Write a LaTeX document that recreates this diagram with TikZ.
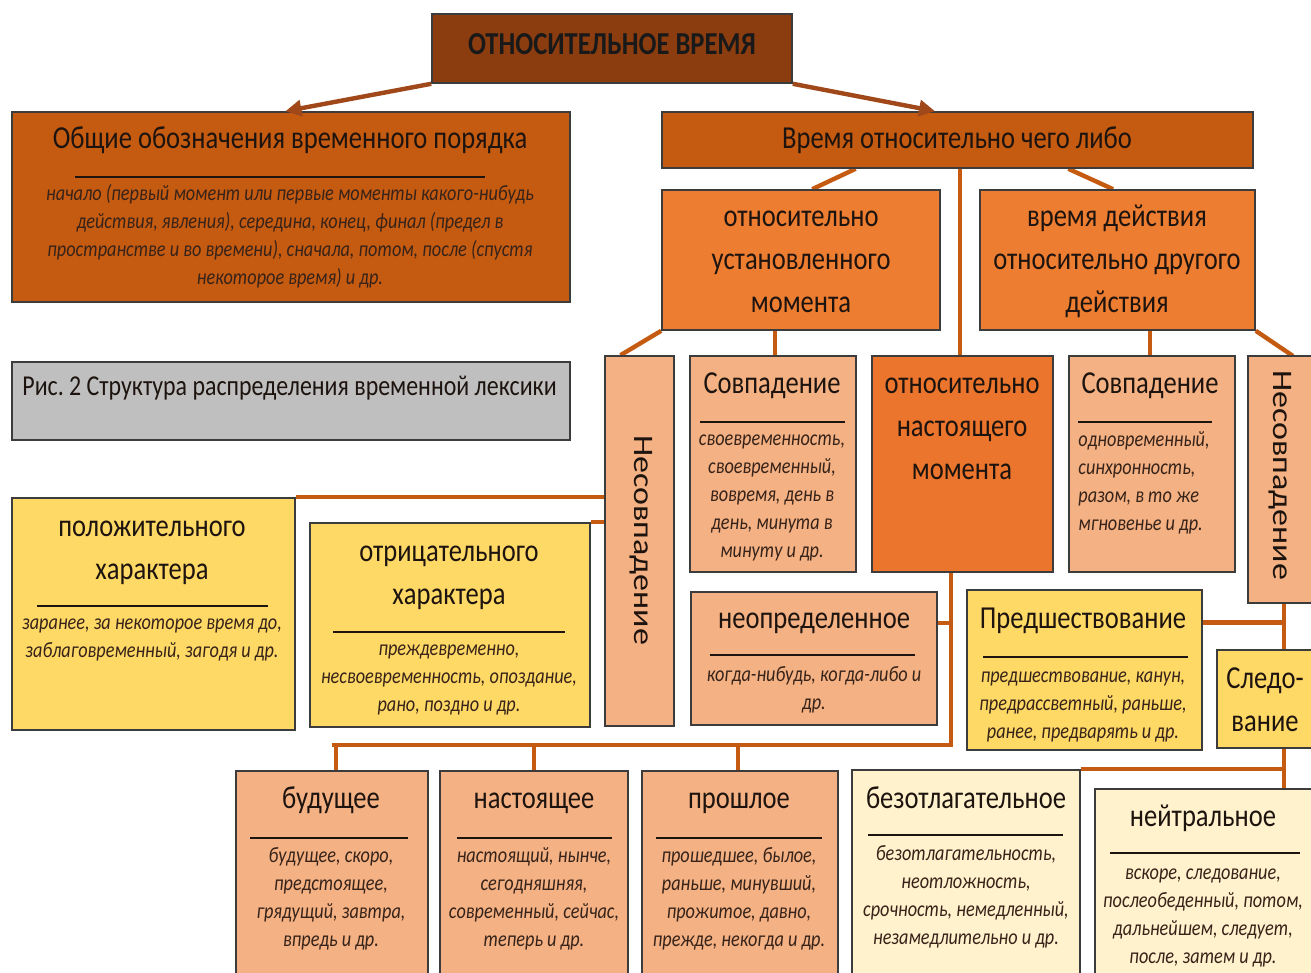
\documentclass[tikz,border=0pt]{standalone}
\usepackage{fontspec}
\setmainfont{Carlito}[FakeStretch=0.83]
\newfontfamily\vertfont{Carlito}
\usetikzlibrary{arrows.meta,calc,fit,backgrounds}
\frenchspacing

\definecolor{cTop}{RGB}{139,61,16}
\definecolor{cDark}{RGB}{197,90,17}
\definecolor{cMid}{RGB}{237,125,49}
\definecolor{cMidB}{RGB}{235,117,44}
\definecolor{cPeach}{RGB}{244,177,131}
\definecolor{cYel}{RGB}{255,217,102}
\definecolor{cCream}{RGB}{255,242,204}
\definecolor{cGrey}{RGB}{191,191,191}
\definecolor{cConn}{RGB}{197,90,17}
\definecolor{cArr}{RGB}{160,72,25}
\definecolor{cBorder}{RGB}{60,60,60}
\definecolor{cTxt}{RGB}{30,20,15}
\definecolor{cTxtI}{RGB}{55,35,25}

\begin{document}
\begin{tikzpicture}[x=0.5pt,y=-0.5pt,
  box/.style={draw=cBorder, line width=0.8pt, inner sep=0pt},
  conn/.style={draw=cConn, line width=2.2pt},
  arr/.style={draw=cArr, line width=2.2pt, -{Triangle[length=8pt,width=8pt]}},
  ttl/.style={font=\fontsize{16}{21.5}\selectfont, align=center, inner sep=0pt, anchor=north, text=cTxt},
  itl/.style={font=\fontsize{11}{14}\selectfont\itshape, align=center, inner sep=0pt, anchor=north, text=cTxtI},
  rl/.style={draw=cTxt, line width=0.8pt},
  vert/.style={font=\vertfont\fontsize{17}{20}\selectfont, rotate=-90, inner sep=0pt, text=cTxt},
]
\useasboundingbox (0,0) rectangle (1311,973);

% ---------- boxes ----------
\node[box, fill=cTop,   fit={(432,14) (792,83)}] (top) {};
\node[box, fill=cDark,  fit={(12,112) (570,302)}] (obsh) {};
\node[box, fill=cDark,  fit={(662,112) (1253,168)}] (vrem) {};
\node[box, fill=cGrey,  fit={(12,362) (570,440)}] (ris) {};
\node[box, fill=cMid,   fit={(662,190) (940,330)}] (ust) {};
\node[box, fill=cMid,   fit={(980,190) (1255,330)}] (dei) {};
\node[box, fill=cPeach, fit={(605,356) (674,726)}] (nesA) {};
\node[box, fill=cPeach, fit={(690,356) (856,572)}] (sovA) {};
\node[box, fill=cMidB,  fit={(872,356) (1053,572)}] (nast) {};
\node[box, fill=cPeach, fit={(1069,356) (1235,572)}] (sovB) {};
\node[box, fill=cPeach, fit={(1248,356) (1322,603)}] (nesB) {};
\node[box, fill=cYel,   fit={(12,498) (295,730)}] (pol) {};
\node[box, fill=cYel,   fit={(310,523) (590,727)}] (otr) {};
\node[box, fill=cPeach, fit={(691,592) (937,725)}] (neop) {};
\node[box, fill=cYel,   fit={(967,590) (1202,750)}] (pred) {};
\node[box, fill=cYel,   fit={(1217,650) (1322,748)}] (sled) {};
\node[box, fill=cPeach, fit={(236,771) (428,990)}] (bud) {};
\node[box, fill=cPeach, fit={(440,771) (628,990)}] (nasto) {};
\node[box, fill=cPeach, fit={(642,771) (838,990)}] (prosh) {};
\node[box, fill=cCream, fit={(852,770) (1080,990)}] (bezo) {};
\node[box, fill=cCream, fit={(1095,789) (1322,990)}] (neit) {};

% ---------- junction coordinates ----------
\coordinate (jN) at (951,745);
\coordinate (jR) at (1284,623);

% ---------- connectors (behind boxes) ----------
\begin{scope}[on background layer]
\fill[white] (0,0) rectangle (1311,973);
\draw[conn] ($(vrem.south west)!0.328!(vrem.south east)$) -- ($(ust.north west)!0.54!(ust.north east)$);
\draw[conn] ($(vrem.south west)!0.687!(vrem.south east)$) -- ($(dei.north west)!0.484!(dei.north east)$);
\draw[conn] ($(vrem.south west)!0.504!(vrem.south east)$) coordinate (vmid) -- (vmid |- nast.north);
\draw[conn] (ust.south west) -- ($(nesA.north west)!0.23!(nesA.north east)$);
\draw[conn] ($(ust.south west)!0.406!(ust.south east)$) coordinate (umid) -- (umid |- sovA.north);
\draw[conn] ($(dei.south west)!0.618!(dei.south east)$) coordinate (dmid) -- (dmid |- sovB.north);
\draw[conn] (dei.south east) -- (1293,356);
\draw[conn] (pol.north east) -- (pol.north east -| nesA.west);
\draw[conn] (otr.north east) -- (otr.north east -| nesA.west);
\draw[conn] (nast.south -| jN) -- (jN) -- (jN -| bud.north);
\draw[conn] (336,745) -- (336,771);
\draw[conn] (jN -| nasto.north) -- (nasto.north);
\draw[conn] (738,745) -- (738,771);
\draw[conn] ($(neop.north east)!0.234!(neop.south east)$) coordinate (nr) -- (nr -| jN);
\draw[conn] (nesB.south -| jR) -- (jR |- neit.north);
\draw[conn] ($(pred.north east)!0.206!(pred.south east)$) coordinate (pr) -- (pr -| jR);
\draw[conn] (bezo.north east) -- (bezo.north east -| jR);
\end{scope}

\draw[arr] (top.south west) -- ($(obsh.north west)!0.49!(obsh.north east)$);
\draw[arr] (top.south east) -- ($(vrem.north west)!0.462!(vrem.north east)$);

% ---------- texts ----------
\node[font=\fontsize{16}{19}\selectfont\bfseries, text=black!90, inner sep=0pt] (top-t) at (612,44) {ОТНОСИТЕЛЬНОЕ ВРЕМЯ};

\node[ttl] (obsh-t) at (290,140-22) {\strut Общие обозначения временного порядка};
\draw[rl] (75,177) -- (485,177);
\node[itl] (obsh-d) at (290,196-15) {\strut начало (первый момент или первые моменты какого-нибудь\\действия, явления), середина, конец, финал (предел в\\пространстве и во времени), сначала, потом, после (спустя\\некоторое время) и др.};

\node[ttl] (vrem-t) at (957,140-22) {\strut Время относительно чего либо};

\node[ttl, font=\fontsize{14.4}{20}\selectfont, anchor=north west] (ris-t) at (22,388-21) {\strut Рис. 2 Структура распределения временной лексики};

\node[ttl] (ust-t) at (801,218-22) {\strut относительно\\установленного\\момента};
\node[ttl] (dei-t) at (1117,218-22) {\strut время действия\\относительно другого\\действия};

\node[vert] (nesA-t) at (641,540) {\scalebox{1}[0.83]{Несовпадение}};

\node[ttl] (sovA-t) at (772,385-22) {\strut Совпадение};
\draw[rl] (700,422) -- (845,422);
\node[itl] (sovA-d) at (772,440-15) {\strut своевременность,\\своевременный,\\вовремя, день в\\день, минута в\\минуту и др.};

\node[ttl] (nast-t) at (962,385-22) {\strut относительно\\настоящего\\момента};

\node[ttl] (sovB-t) at (1150,385-22) {\strut Совпадение};
\draw[rl] (1078,422) -- (1212,422);
\node[itl, anchor=north west, align=left] (sovB-d) at (1078,441-15) {\strut одновременный,\\синхронность,\\разом, в то же\\мгновенье и др.};

\node[vert] (nesB-t) at (1280,475) {\scalebox{1}[0.83]{Несовпадение}};

\node[ttl] (pol-t) at (152,528-22) {\strut положительного\\характера};
\draw[rl] (37,606) -- (268,606);
\node[itl] (pol-d) at (152,624-15) {\strut заранее, за некоторое время до,\\заблаговременный, загодя и др.};

\node[ttl] (otr-t) at (449,553-22) {\strut отрицательного\\характера};
\draw[rl] (333,632) -- (565,632);
\node[itl] (otr-d) at (449,650-15) {\strut преждевременно,\\несвоевременность, опоздание,\\рано, поздно и др.};

\node[ttl] (neop-t) at (814,620-22) {\strut неопределенное};
\draw[rl] (710,655) -- (915,655);
\node[itl] (neop-d) at (814,676-15) {\strut когда-нибудь, когда-либо и\\др.};

\node[ttl] (pred-t) at (1083,620-22) {\strut Предшествование};
\draw[rl] (983,657) -- (1188,657);
\node[itl] (pred-d) at (1083,677-15) {\strut предшествование, канун,\\предрассветный, раньше,\\ранее, предварять и др.};

\node[ttl] (sled-t) at (1265,680-22) {\strut Следо-\\вание};

\node[ttl] (bud-t) at (331,800-22) {\strut будущее};
\draw[rl] (250,838) -- (408,838);
\node[itl] (bud-d) at (331,857-15) {\strut будущее, скоро,\\предстоящее,\\грядущий, завтра,\\впредь и др.};

\node[ttl] (nasto-t) at (534,800-22) {\strut настоящее};
\draw[rl] (457,838) -- (612,838);
\node[itl] (nasto-d) at (534,857-15) {\strut настоящий, нынче,\\сегодняшняя,\\современный, сейчас,\\теперь и др.};

\node[ttl] (prosh-t) at (739,800-22) {\strut прошлое};
\draw[rl] (656,838) -- (822,838);
\node[itl] (prosh-d) at (739,857-15) {\strut прошедшее, былое,\\раньше, минувший,\\прожитое, давно,\\прежде, некогда и др.};

\node[ttl] (bezo-t) at (966,800-22) {\strut безотлагательное};
\draw[rl] (868,835) -- (1063,835);
\node[itl] (bezo-d) at (966,855-15) {\strut безотлагательность,\\неотложность,\\срочность, немедленный,\\незамедлительно и др.};

\node[ttl] (neit-t) at (1203,818-22) {\strut нейтральное};
\draw[rl] (1110,853) -- (1300,853);
\node[itl] (neit-d) at (1203,874-15) {\strut вскоре, следование,\\послеобеденный, потом,\\дальнейшем, следует,\\после, затем и др.};
\end{tikzpicture}
\end{document}
